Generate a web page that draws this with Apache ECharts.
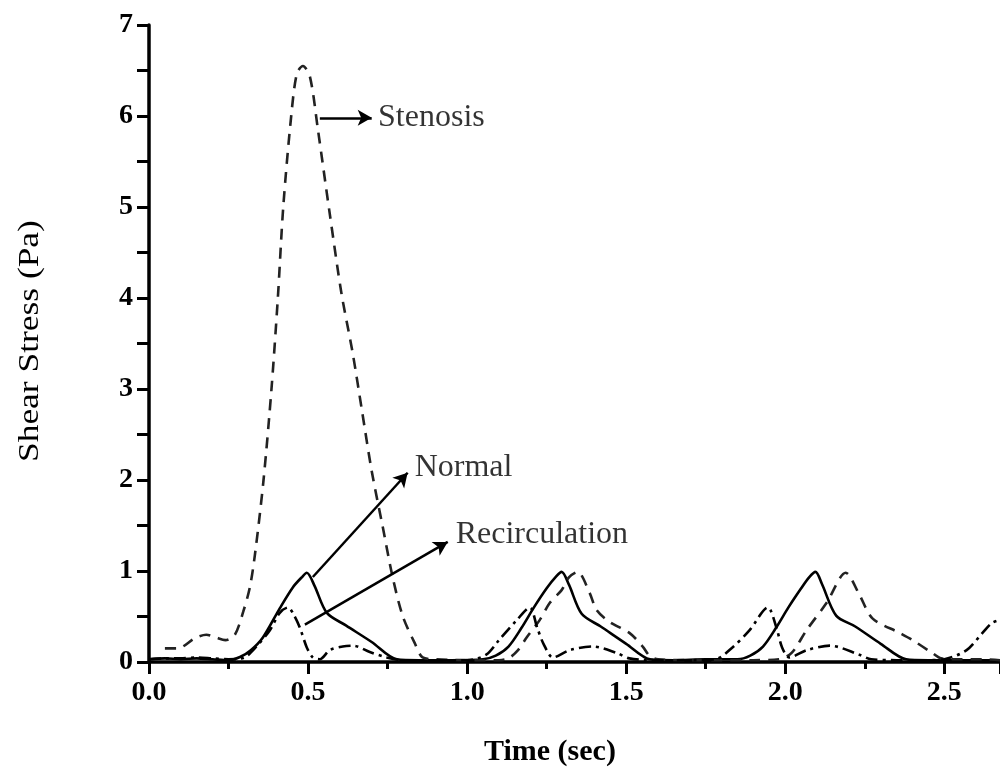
<!DOCTYPE html>
<html><head><meta charset="utf-8">
<script src="https://cdn.jsdelivr.net/npm/echarts@6/dist/echarts.min.js"></script>
<style>html,body{margin:0;padding:0;background:#fff}#c{width:1000px;height:771px}</style>
</head><body><div id="c"></div>
<script>
// Normal (solid)
const normalT = [0,0.05,0.1,0.15,0.2,0.25,0.286,0.32,0.358,0.411,0.452,0.48,0.496,0.52,0.559,0.62,0.70,0.779,0.85,0.95,1.05,1.09,1.13,1.17,1.21,1.25,1.28,1.297,1.32,1.36,1.42,1.5,1.575,1.65,1.75,1.85,1.89,1.93,1.97,2.01,2.05,2.075,2.095,2.115,2.16,2.22,2.30,2.38,2.45,2.55,2.675];
const normalV = [0.03,0.04,0.03,0.04,0.03,0.02,0.055,0.13,0.27,0.59,0.82,0.93,0.98,0.84,0.54,0.40,0.22,0.03,0.02,0.02,0.03,0.07,0.17,0.37,0.6,0.81,0.94,0.99,0.85,0.53,0.39,0.20,0.03,0.02,0.03,0.03,0.07,0.17,0.37,0.6,0.81,0.93,0.99,0.86,0.51,0.39,0.20,0.03,0.02,0.02,0.02];
// Stenosis (dashed)
const stenosisT = [0.05,0.09,0.144,0.18,0.21,0.24,0.27,0.296,0.317,0.333,0.36,0.385,0.405,0.422,0.447,0.465,0.484,0.506,0.531,0.568,0.605,0.64,0.67,0.70,0.735,0.766,0.798,0.835,0.86,0.9,1.0,1.1,1.13,1.16,1.187,1.228,1.26,1.297,1.32,1.347,1.385,1.407,1.448,1.51,1.552,1.573,1.6,1.7,1.8,1.9,1.98,2.02,2.067,2.13,2.19,2.233,2.274,2.359,2.40,2.462,2.49,2.55,2.62,2.675];
const stenosisV = [0.15,0.15,0.26,0.30,0.27,0.24,0.30,0.55,0.82,1.18,2.0,3.0,4.0,5.0,6.0,6.47,6.55,6.43,5.85,4.93,4.05,3.4,2.75,2.1,1.48,0.93,0.5,0.21,0.05,0.03,0.02,0.02,0.04,0.13,0.27,0.46,0.65,0.79,0.93,0.99,0.76,0.57,0.44,0.32,0.17,0.07,0.03,0.02,0.02,0.02,0.03,0.1,0.35,0.65,0.98,0.74,0.48,0.32,0.24,0.10,0.04,0.03,0.03,0.02];
// Recirculation (dash-dot)
const recircT = [0,0.05,0.1,0.15,0.2,0.25,0.3,0.34,0.38,0.411,0.437,0.455,0.474,0.496,0.515,0.537,0.568,0.609,0.641,0.694,0.747,0.8,0.9,1.0,1.06,1.10,1.156,1.197,1.22,1.24,1.27,1.322,1.395,1.47,1.51,1.6,1.7,1.78,1.834,1.888,1.945,1.972,1.99,2.013,2.067,2.14,2.233,2.27,2.35,2.45,2.5,2.57,2.62,2.65,2.675];
const recircV = [0.03,0.04,0.04,0.05,0.04,0.03,0.05,0.18,0.35,0.54,0.6,0.52,0.38,0.16,0.05,0.03,0.13,0.17,0.18,0.11,0.05,0.02,0.02,0.02,0.08,0.24,0.46,0.6,0.38,0.2,0.05,0.13,0.17,0.1,0.04,0.02,0.02,0.03,0.16,0.35,0.6,0.38,0.16,0.05,0.13,0.18,0.08,0.03,0.02,0.02,0.03,0.13,0.32,0.43,0.46];
// Annotations: label, arrow start, arrow end, text anchor
const annoLabels = ['Stenosis','Normal','Recirculation'];
const annoFrom = [[0.537,5.98],[0.515,0.934],[0.49,0.41]];
const annoTo = [[0.70,5.98],[0.813,2.08],[0.939,1.32]];
const annoText = [[0.72,5.98],[0.835,2.14],[0.964,1.40]];
const xTicks = [0,0.5,1.0,1.5,2.0,2.5];
const yTicks = [0,1,2,3,4,5,6,7];

const zip = (a,b)=>a.map((v,i)=>[v,b[i]]);
const font = '"Liberation Serif","DejaVu Serif",serif';
const chart = echarts.init(document.getElementById('c'));
const lw = 2.6;
chart.setOption({
  animation:false,
  backgroundColor:'#fff',
  grid:{left:149,top:25,right:0,bottom:109,containLabel:false},
  xAxis:{type:'value',min:0,max:2.675,interval:0.5,
    axisLine:{onZero:false,lineStyle:{color:'#000',width:3.5}},
    axisTick:{length:12,lineStyle:{width:3,color:'#000'}},
    minorTick:{show:true,splitNumber:2,length:7,lineStyle:{width:3,color:'#000'}},
    splitLine:{show:false},
    axisLabel:{margin:17,color:'#000',fontFamily:font,fontSize:28,fontWeight:'bold',
      showMaxLabel:false,
      formatter:v=>xTicks.some(t=>Math.abs(t-v)<1e-6)?v.toFixed(1):''}},
  yAxis:{type:'value',min:0,max:7,interval:0.5,
    axisLine:{show:true,lineStyle:{color:'#000',width:3.5}},
    axisTick:{show:true,length:12,lineStyle:{width:3,color:'#000'}},
    splitLine:{show:false},
    axisLabel:{margin:16,color:'#000',fontFamily:font,fontSize:28,fontWeight:'bold',
      formatter:v=>yTicks.includes(v)?String(v):''}},
  graphic:[
    {type:'text',x:484,y:737,style:{text:'Time (sec)',font:'bold 30px '+font,fill:'#000'}},
    {type:'text',x:15,y:462,rotation:Math.PI/2,scaleX:1.18,style:{text:'Shear Stress (Pa)',font:'30px '+font,fill:'#000'}}
  ],
  series:[
    {name:'Normal',type:'line',data:zip(normalT,normalV),smooth:0.3,showSymbol:false,
      lineStyle:{color:'#000',width:lw,type:'solid'}},
    {name:'Stenosis',type:'line',data:zip(stenosisT,stenosisV),smooth:0.3,showSymbol:false,
      lineStyle:{color:'#222',width:lw,type:[11,8]},
      markLine:{silent:true,symbol:['none','arrow'],symbolSize:[12,14],
        lineStyle:{color:'#000',width:2.5,type:'solid'},label:{show:false},
        data:annoFrom.map((f,i)=>[{coord:f},{coord:annoTo[i]}])}},
    {name:'Recirculation',type:'line',data:zip(recircT,recircV),smooth:0.3,showSymbol:false,
      lineStyle:{color:'#000',width:lw,type:[12,5,3,5]}},
    {name:'labels',type:'scatter',symbolSize:0,silent:true,
      data:annoText.map((p,i)=>({value:p,name:annoLabels[i]})),
      label:{show:true,position:'right',distance:0,formatter:p=>p.name,
        color:'#000',fontFamily:font,fontSize:32}}
  ]
});
</script></body></html>
